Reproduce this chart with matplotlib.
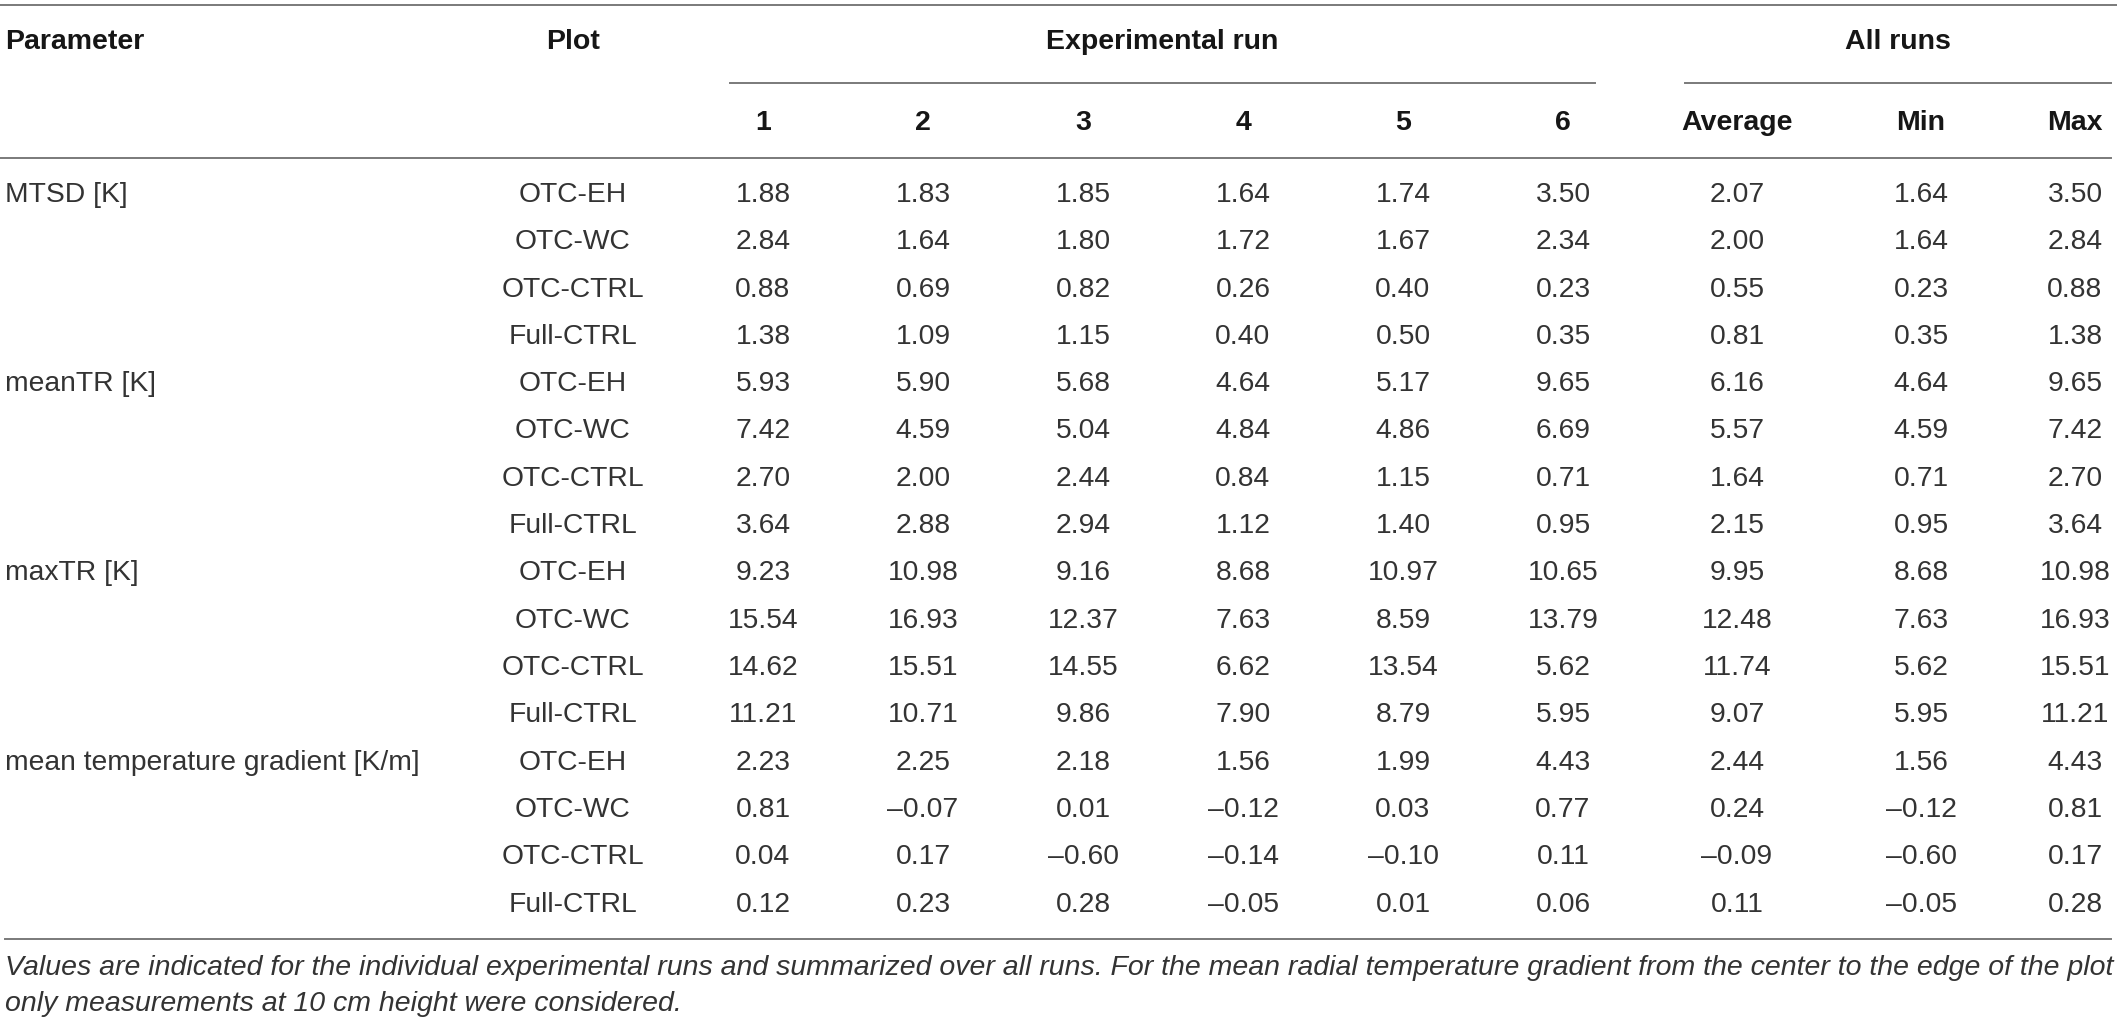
import matplotlib
matplotlib.use("Agg")
import matplotlib.pyplot as plt

# table contents
parameters = ['MTSD [K]', 'meanTR [K]', 'maxTR [K]', 'mean temperature gradient [K/m]']
plots = ['OTC-EH', 'OTC-WC', 'OTC-CTRL', 'Full-CTRL']
run_labels = ['1', '2', '3', '4', '5', '6']
summary_labels = ['Average', 'Min', 'Max']

mtsd = [[1.88, 1.83, 1.85, 1.64, 1.74, 3.50],
        [2.84, 1.64, 1.80, 1.72, 1.67, 2.34],
        [0.88, 0.69, 0.82, 0.26, 0.40, 0.23],
        [1.38, 1.09, 1.15, 0.40, 0.50, 0.35]]
mean_tr = [[5.93, 5.90, 5.68, 4.64, 5.17, 9.65],
           [7.42, 4.59, 5.04, 4.84, 4.86, 6.69],
           [2.70, 2.00, 2.44, 0.84, 1.15, 0.71],
           [3.64, 2.88, 2.94, 1.12, 1.40, 0.95]]
max_tr = [[9.23, 10.98, 9.16, 8.68, 10.97, 10.65],
          [15.54, 16.93, 12.37, 7.63, 8.59, 13.79],
          [14.62, 15.51, 14.55, 6.62, 13.54, 5.62],
          [11.21, 10.71, 9.86, 7.90, 8.79, 5.95]]
gradient = [[2.23, 2.25, 2.18, 1.56, 1.99, 4.43],
            [0.81, -0.07, 0.01, -0.12, 0.03, 0.77],
            [0.04, 0.17, -0.60, -0.14, -0.10, 0.11],
            [0.12, 0.23, 0.28, -0.05, 0.01, 0.06]]

averages = [2.07, 2.00, 0.55, 0.81, 6.16, 5.57, 1.64, 2.15,
            9.95, 12.48, 11.74, 9.07, 2.44, 0.24, -0.09, 0.11]
minimums = [1.64, 1.64, 0.23, 0.35, 4.64, 4.59, 0.71, 0.95,
            8.68, 7.63, 5.62, 5.95, 1.56, -0.12, -0.60, -0.05]
maximums = [3.50, 2.84, 0.88, 1.38, 9.65, 7.42, 2.70, 3.64,
            10.98, 16.93, 15.51, 11.21, 4.43, 0.81, 0.17, 0.28]

footnote = ["Values are indicated for the individual experimental runs and summarized over all runs. "
            "For the mean radial temperature gradient from the center to the edge of the plot",
            "only measurements at 10 cm height were considered."]

W, H = 2117, 1025
FONT = 'Liberation Sans'
TXT = '#333333'
LINE = '#7a7a7a'


def fmt(v):
    return f"{v:.2f}".replace('-', '\u2013')


fig = plt.figure(figsize=(W / 100, H / 100), dpi=100)
ax = fig.add_axes([0, 0, 1, 1])
ax.set_xlim(0, W)
ax.set_ylim(H, 0)
ax.axis('off')


def fit_size(text, width, **kw):
    # font size that makes text span the given pixel width
    t = ax.text(0, 0, text, fontsize=20, **kw)
    fig.canvas.draw()
    w = t.get_window_extent().width
    t.remove()
    return 20 * width / w


FS = fit_size(parameters[3], 414, family=FONT)
FS_HDR = fit_size('Average', 111, family=FONT, fontweight='bold')
FS_NOTE = fit_size(footnote[0], 2099, family=FONT, style='italic')

run_x = [763 + 160 * i for i in range(6)]
sum_x = [1737, 1921, 2075]
plot_x = 573
row_y0, row_dy = 195, 47.3

# rules
ax.plot([0, W], [5, 5], color=LINE, lw=1.4)
ax.plot([730, 1595], [83, 83], color=LINE, lw=1.4)
ax.plot([1685, 2111], [83, 83], color=LINE, lw=1.4)
ax.plot([0, 2111], [158, 158], color=LINE, lw=1.4)
ax.plot([5, 2111], [939, 939], color=LINE, lw=1.4)

# headers
hdr = dict(fontsize=FS_HDR, fontweight='bold', family=FONT, color='#161616', va='center')
ax.text(5, 42, 'Parameter', ha='left', **hdr)
ax.text(plot_x, 42, 'Plot', ha='center', **hdr)
ax.text((730 + 1595) / 2, 42, 'Experimental run', ha='center', **hdr)
ax.text((1685 + 2111) / 2, 42, 'All runs', ha='center', **hdr)
for x, lab in zip(run_x, run_labels):
    ax.text(x, 123, lab, ha='center', **hdr)
for x, lab in zip(sum_x, summary_labels):
    ax.text(x, 123, lab, ha='center', **hdr)

# body
body = dict(fontsize=FS, family=FONT, color=TXT, va='center')
blocks = [mtsd, mean_tr, max_tr, gradient]
row = 0
for p, block in zip(parameters, blocks):
    for k, vals in enumerate(block):
        y = row_y0 + row * row_dy
        if k == 0:
            ax.text(5, y, p, ha='left', **body)
        ax.text(plot_x, y, plots[k], ha='center', **body)
        for x, v in zip(run_x, vals):
            ax.text(x, y, fmt(v), ha='center', **body)
        for x, v in zip(sum_x, (averages[row], minimums[row], maximums[row])):
            ax.text(x, y, fmt(v), ha='center', **body)
        row += 1

# footnote
for i, line in enumerate(footnote):
    ax.text(5, 968 + 36 * i, line, ha='left', va='center', fontsize=FS_NOTE,
            family=FONT, style='italic', color=TXT)

fig.savefig('out.png', dpi=100)
